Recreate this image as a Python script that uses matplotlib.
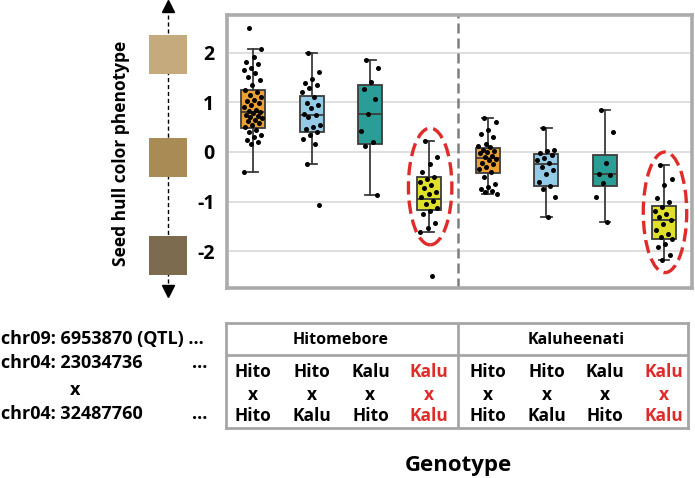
import numpy as np
import matplotlib
matplotlib.use("Agg")
import matplotlib.pyplot as plt
from matplotlib.patches import Ellipse, Rectangle

plt.rcParams['font.family'] = ['Open Sans', 'DejaVu Sans']
plt.rcParams['font.weight'] = 'bold'

# ---------------- data ----------------
backgrounds = ['Hitomebore', 'Kaluheenati']
allele_top = ['Hito', 'Hito', 'Kalu', 'Kalu', 'Hito', 'Hito', 'Kalu', 'Kalu']
allele_bottom = ['Hito', 'Kalu', 'Hito', 'Kalu', 'Hito', 'Kalu', 'Hito', 'Kalu']
highlight = [False, False, False, True, False, False, False, True]

q1 = [0.49, 0.40, 0.17, -1.16, -0.43, -0.68, -0.69, -1.76]
med = [0.80, 0.74, 0.77, -0.95, -0.13, -0.24, -0.45, -1.37]
q3 = [1.25, 1.13, 1.34, -0.51, 0.09, -0.05, -0.07, -1.09]
whislo = [-0.40, -0.24, -0.86, -1.61, -0.85, -1.31, -1.41, -2.17]
whishi = [2.07, 2.00, 1.85, 0.22, 0.69, 0.48, 0.84, -0.26]

pts_hh_h = [2.49, 2.07, 1.92, 1.82, 1.78, 1.70, 1.65, 1.60, 1.52, 1.45, 1.35, 1.25,
            1.20, 1.15, 1.10, 1.05, 1.02, 0.98, 0.95, 0.90, 0.85, 0.82, 0.80, 0.78,
            0.75, 0.72, 0.70, 0.68, 0.65, 0.62, 0.58, 0.55, 0.50, 0.45, 0.40, 0.35,
            0.30, 0.25, 0.20, 0.17, -0.40]
pts_hk_h = [2.0, 1.62, 1.48, 1.40, 1.35, 1.28, 1.21, 1.11, 0.98, 0.95, 0.88, 0.77,
            0.74, 0.70, 0.54, 0.50, 0.47, 0.40, 0.34, 0.27, 0.17, -0.24, -1.07]
pts_kh_h = [1.85, 1.70, 1.41, 1.26, 1.07, 0.77, 0.42, 0.20, 0.12, -0.86]
pts_kk_h = [0.22, -0.11, -0.25, -0.41, -0.51, -0.55, -0.60, -0.67, -0.72, -0.81,
            -0.84, -0.91, -0.98, -1.04, -1.12, -1.19, -1.25, -1.43, -1.53, -1.61, -2.49]
pts_hh_k = [0.69, 0.60, 0.45, 0.37, 0.30, 0.17, 0.12, 0.10, 0.05, 0.03, 0.0, -0.03,
            -0.08, -0.10, -0.15, -0.17, -0.22, -0.25, -0.30, -0.35, -0.40, -0.50,
            -0.64, -0.70, -0.74, -0.78, -0.81, -0.85]
pts_hk_k = [0.48, 0.05, 0.03, -0.03, -0.07, -0.12, -0.17, -0.22, -0.30, -0.37,
            -0.45, -0.61, -0.68, -0.74, -0.91, -1.31]
pts_kh_k = [0.84, 0.40, -0.22, -0.44, -0.47, -0.62, -0.91, -1.41]
pts_kk_k = [-0.26, -0.55, -0.66, -0.93, -1.01, -1.10, -1.18, -1.25, -1.31, -1.38,
            -1.45, -1.58, -1.65, -1.72, -1.76, -1.85, -1.92, -2.07, -2.17]
points = [pts_hh_h, pts_hk_h, pts_kh_h, pts_kk_h, pts_hh_k, pts_hk_k, pts_kh_k, pts_kk_k]

yticks = [2, 1, 0, -1, -2]
swatch_levels = [1.97, -0.11, -2.09]
swatch_colors = ['#C5AA7D', '#A98B56', '#7D6B4F']
box_colors = ['#E9A035', '#93CBE7', '#2A9D96', '#E0E02A'] * 2

# ---------------- layout ----------------
W, H = 695, 478
fig = plt.figure(figsize=(W / 100, H / 100), dpi=100)


def fx(px):
    return px / W


def fy(py):
    return 1 - py / H


ax_l, ax_r, ax_t, ax_b = 227, 692, 15, 288
ax = fig.add_axes([fx(ax_l), fy(ax_b), fx(ax_r) - fx(ax_l), fy(ax_t) - fy(ax_b)])
ylim = (-2.74, 2.76)
ax.set_xlim(-0.44, 7.48)
ax.set_ylim(*ylim)

positions = np.arange(len(q1))
stats = []
for i in range(len(q1)):
    stats.append(dict(med=med[i], q1=q1[i], q3=q3[i], whislo=whislo[i],
                      whishi=whishi[i], fliers=[]))
bp = ax.bxp(stats, positions=positions, widths=0.41, patch_artist=True,
            showfliers=False, capwidths=0.18,
            boxprops=dict(edgecolor='#3C3C3C', linewidth=1.3),
            whiskerprops=dict(color='#3C3C3C', linewidth=1.3),
            capprops=dict(color='#3C3C3C', linewidth=1.3),
            medianprops=dict(color='#3C3C3C', linewidth=1.3))
for patch, c in zip(bp['boxes'], box_colors):
    patch.set_facecolor(c)
    patch.set_zorder(2)

for i, vals in enumerate(points):
    n = len(vals)
    offs = ((np.arange(n) * 0.618034 + 0.3) % 1 - 0.5) * 0.32
    ax.scatter(positions[i] + offs, vals, s=13, color='black', zorder=4, linewidths=0)

ax.set_yticks(yticks)
ax.set_yticklabels([str(t) for t in yticks], fontsize=14, fontweight='bold')
ax.tick_params(axis='y', length=0, pad=9)
ax.set_xticks([])
ax.grid(axis='y', color='#D9D9D9', linewidth=1.2, zorder=0)
ax.set_axisbelow(True)
for s in ax.spines.values():
    s.set_color('#ABABAB')
    s.set_linewidth(2.6)

ax.axvline(3.5, color='#7F7F7F', linestyle=(0, (4, 2)), linewidth=1.8, zorder=1)

for i, h in enumerate(highlight):
    if h:
        cy = (whishi[i] + whislo[i]) / 2
        hgt = (whishi[i] - whislo[i]) + 0.52
        e = Ellipse((positions[i] + 0.02, cy), 0.74, hgt, fill=False,
                    edgecolor='#E02B2B', linewidth=2.4, linestyle=(0, (4, 1.8)), zorder=5)
        ax.add_patch(e)

# ---------------- left colour scale ----------------
axl = fig.add_axes([fx(140), fy(ax_b), fx(200) - fx(140), fy(ax_t) - fy(ax_b)])
axl.set_xlim(140, 200)
axl.set_ylim(*ylim)
axl.axis('off')
axl.plot([168, 168], [-2.78, 2.92], color='black', linestyle=(0, (3, 2)),
         linewidth=1.0, clip_on=False, zorder=1)
axl.plot([168], [2.94], marker='^', color='black', markersize=8, clip_on=False)
axl.plot([168], [-2.80], marker='v', color='black', markersize=8, clip_on=False)
for lvl, c in zip(swatch_levels, swatch_colors):
    axl.add_patch(Rectangle((148.5, lvl - 0.39), 38.5, 0.78, facecolor=c,
                            edgecolor='none', zorder=3, clip_on=False))

fig.text(fx(121), fy(153), 'Seed hull color phenotype', rotation=90,
         ha='center', va='center', fontsize=12.5, fontweight='bold')

# ---------------- genotype table ----------------
tax = fig.add_axes([fx(226), fy(428), fx(688) - fx(226), fy(323) - fy(428)])
tax.set_xlim(-0.46, 7.41)
tax.set_ylim(0, 1)
tax.set_xticks([])
tax.set_yticks([])
for s in tax.spines.values():
    s.set_color('#A6A6A6')
    s.set_linewidth(2.0)
tax.axhline(0.695, color='#A6A6A6', linewidth=2.0)
tax.axvline(3.5, color='#A6A6A6', linewidth=2.0)
for g, name in enumerate(backgrounds):
    tax.text(1.5 + 4 * g, 0.84, name, ha='center', va='center', fontsize=11.5,
             fontweight='bold')
for i in range(len(allele_top)):
    col = '#E02B2B' if highlight[i] else 'black'
    tax.text(positions[i], 0.53, allele_top[i], ha='center', va='center',
             fontsize=12.5, fontweight='bold', color=col)
    tax.text(positions[i], 0.315, 'x', ha='center', va='center',
             fontsize=12.5, fontweight='bold', color=col)
    tax.text(positions[i], 0.115, allele_bottom[i], ha='center', va='center',
             fontsize=12.5, fontweight='bold', color=col)

# ---------------- left locus labels ----------------
lab_kw = dict(fontsize=13, fontweight='bold', va='center')
fig.text(fx(1), fy(339), 'chr09: 6953870 (QTL) ...', ha='left', **lab_kw)
fig.text(fx(1), fy(363), 'chr04: 23034736', ha='left', **lab_kw)
fig.text(fx(207), fy(363), '...', ha='right', **lab_kw)
fig.text(fx(75), fy(390), 'x', ha='center', **lab_kw)
fig.text(fx(1), fy(414), 'chr04: 32487760', ha='left', **lab_kw)
fig.text(fx(207), fy(414), '...', ha='right', **lab_kw)

fig.text(fx(458), fy(466), 'Genotype', ha='center', va='center',
         fontsize=16, fontweight='bold')

fig.savefig('out.png', dpi=100)
